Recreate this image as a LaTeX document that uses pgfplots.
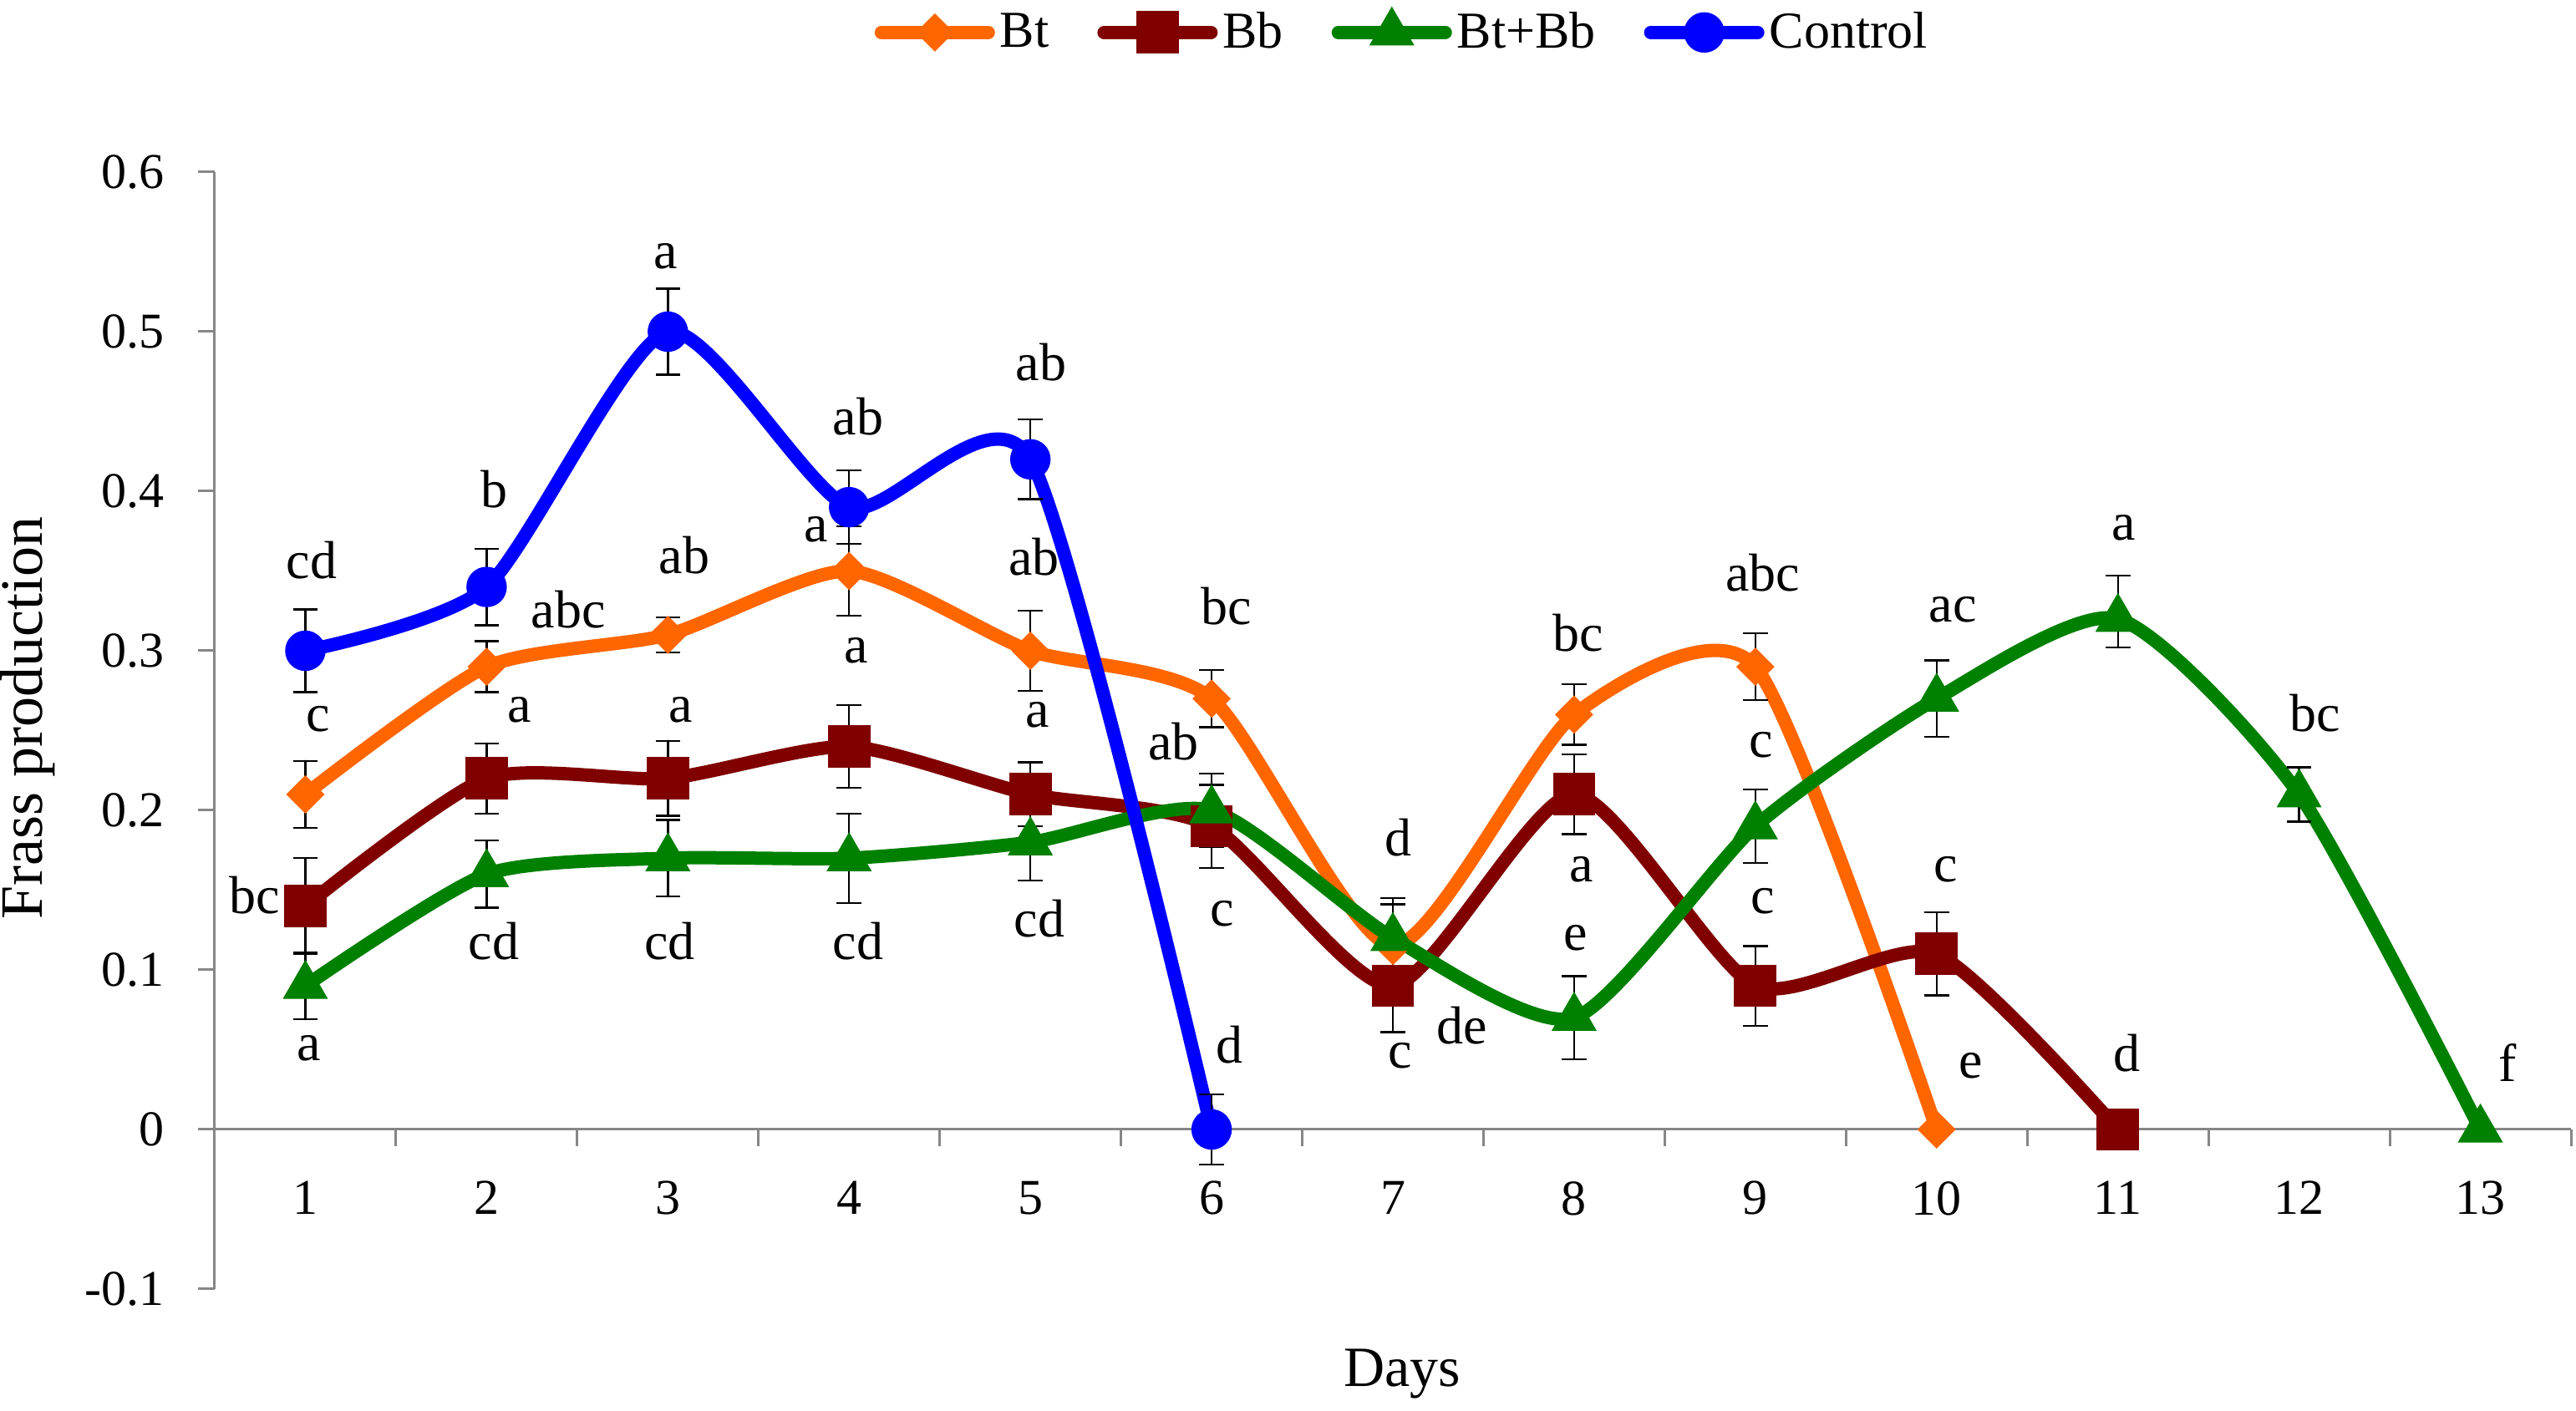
\documentclass[border=0pt]{standalone}
\usepackage{pgfplots}
\pgfplotsset{compat=1.18}
\usepackage{pgfplotstable}
\usepackage{fontspec}
\setmainfont{Liberation Serif}
\definecolor{cBt}{RGB}{255,102,0}
\definecolor{cBb}{RGB}{128,0,0}
\definecolor{cBtBb}{RGB}{0,128,0}
\definecolor{cCtrl}{RGB}{0,0,255}
\definecolor{axgray}{RGB}{134,134,134}

\pgfplotstableread{
x y ep em
1 0.21 0.021 0.021
2 0.29 0.016 0.016
3 0.31 0.011 0.011
4 0.35 0.028 0.028
5 0.30 0.025 0.025
6 0.27 0.018 0.018
7 0.115 0.030 0.030
8 0.26 0.019 0.019
9 0.29 0.021 0.021
10 0.00 0.000 0.000
}\tBt

\pgfplotstableread{
x y ep em
1 0.14 0.030 0.030
2 0.22 0.022 0.022
3 0.22 0.0235 0.0235
4 0.24 0.026 0.026
5 0.21 0.020 0.020
6 0.19 0.026 0.026
7 0.09 0.029 0.029
8 0.21 0.025 0.025
9 0.09 0.025 0.025
10 0.11 0.026 0.026
11 0.00 0.000 0.000
}\tBb

\pgfplotstableread{
x y ep em
1 0.09 0.021 0.021
2 0.16 0.021 0.021
3 0.17 0.024 0.024
4 0.17 0.028 0.028
5 0.18 0.024 0.024
6 0.20 0.023 0.023
7 0.12 0.021 0.021
8 0.07 0.026 0.026
9 0.19 0.023 0.023
10 0.27 0.024 0.024
11 0.32 0.027 0.018
12 0.21 0.017 0.017
13 0.00 0.000 0.000
}\tBtBb

\pgfplotstableread{
x y ep em
1 0.30 0.026 0.026
2 0.34 0.024 0.024
3 0.50 0.027 0.027
4 0.39 0.023 0.023
5 0.42 0.025 0.025
6 0.00 0.022 0.022
}\tCtrl

\begin{document}
\begin{tikzpicture}
\begin{axis}[
  name=ax,
  scale only axis, width=705pt, height=334.25pt,
  xmin=0.5, xmax=13.5, ymin=-0.1, ymax=0.6,
  clip=false,
  axis x line*=middle, axis y line*=left,
  axis line style={axgray, line width=0.75pt, -},
  xtick={0.5,1.5,...,13.5},
  xticklabels={},
  extra x ticks={1,2,3,4,5,6,7,8,9,10,11,12,13},
  extra x tick labels={1,2,3,4,5,6,7,8,9,10,11,12,13},
  extra x tick style={major tick length=0pt, tick style={draw=none},
    xticklabel style={yshift=-12pt}},
  ytick={-0.1,0,0.1,0.2,0.3,0.4,0.5,0.6},
  yticklabels={-0.1,0,0.1,0.2,0.3,0.4,0.5,0.6},
  yticklabel style={xshift=-6.5pt},
  tick align=outside,
  major tick length=5pt,
  tick style={axgray, line width=0.75pt},
  tick label style={font=\fontsize{15}{18}\selectfont, black},
  /pgf/number format/assume math mode=true,
  legend style={at={(rel axis cs:0.5046,1.125)}, anchor=center, draw=none, fill=none,
    legend columns=4, font=\fontsize{15.5}{18}\selectfont,
    /tikz/every even column/.append style={column sep=13pt},
    nodes={inner xsep=1.5pt}},
  legend image code/.code={\draw[#1, line width=4pt, line cap=round, mark repeat=2, mark phase=2]
    plot coordinates {(2pt,0pt) (18pt,0pt) (34pt,0pt)};},
  every axis plot/.append style={line width=4pt, line cap=round, smooth, tension=0.4},
  error bars/y dir=both, error bars/y explicit,
  error bars/error bar style={black, line width=0.6pt, solid},
  error bars/error mark options={rotate=90, black, mark size=3.7pt, line width=0.6pt},
]
\addplot[cBt, mark=square*, mark size=3.9pt, mark options={rotate=45, fill=cBt, draw=cBt, line width=0.3pt}]
  table[x=x, y=y, y error plus=ep, y error minus=em]{\tBt};
\addlegendentry{Bt}
\addplot[cBb, mark=square*, mark size=6.2pt, mark options={fill=cBb, draw=cBb, line width=0.3pt}]
  table[x=x, y=y, y error plus=ep, y error minus=em]{\tBb};
\addlegendentry{Bb}
\addplot[cBtBb, mark=triangle*, mark size=7.5pt, mark options={fill=cBtBb, draw=cBtBb, line width=0.3pt}]
  table[x=x, y=y, y error plus=ep, y error minus=em]{\tBtBb};
\addlegendentry{Bt+Bb}
\addplot[cCtrl, mark=*, mark size=5.9pt, mark options={fill=cCtrl, draw=cCtrl, line width=0.3pt}]
  table[x=x, y=y, y error plus=ep, y error minus=em]{\tCtrl};
\addlegendentry{Control}

\begin{scope}[every node/.style={font=\fontsize{16}{19}\selectfont, inner sep=0pt, anchor=center}]
% Control
\node at (axis cs:1.035,0.357) {cd};
\node at (axis cs:2.04,0.401) {b};
\node at (axis cs:2.99,0.547) {a};
\node at (axis cs:4.05,0.447) {ab};
\node at (axis cs:5.06,0.481) {ab};
\node at (axis cs:6.10,0.053) {d};
% Bt
\node at (axis cs:1.07,0.257) {c};
\node at (axis cs:2.45,0.326) {abc};
\node at (axis cs:3.09,0.360) {ab};
\node at (axis cs:3.82,0.376) {a};
\node at (axis cs:5.02,0.359) {ab};
\node at (axis cs:6.08,0.328) {bc};
\node at (axis cs:7.03,0.183) {d};
\node at (axis cs:8.02,0.311) {bc};
\node at (axis cs:9.04,0.349) {abc};
\node at (axis cs:10.19,0.040) {e};
% Bb
\node at (axis cs:0.72,0.147) {bc};
\node at (axis cs:2.18,0.263) {a};
\node at (axis cs:3.07,0.263) {a};
\node at (axis cs:4.04,0.300) {a};
\node at (axis cs:5.04,0.260) {a};
\node at (axis cs:6.06,0.135) {c};
\node at (axis cs:7.04,0.046) {c};
\node at (axis cs:8.04,0.163) {a};
\node at (axis cs:9.04,0.143) {c};
\node at (axis cs:10.05,0.163) {c};
\node at (axis cs:11.05,0.048) {d};
% Bt+Bb
\node at (axis cs:1.02,0.051) {a};
\node at (axis cs:2.04,0.118) {cd};
\node at (axis cs:3.01,0.118) {cd};
\node at (axis cs:4.05,0.118) {cd};
\node at (axis cs:5.05,0.132) {cd};
\node at (axis cs:5.79,0.243) {ab};
\node at (axis cs:7.38,0.065) {de};
\node at (axis cs:8.01,0.120) {e};
\node at (axis cs:9.03,0.241) {c};
\node at (axis cs:10.09,0.326) {ac};
\node at (axis cs:11.03,0.377) {a};
\node at (axis cs:12.09,0.261) {bc};
\node at (axis cs:13.15,0.042) {f};
\end{scope}

\node[rotate=90, font=\fontsize{18}{21}\selectfont, anchor=center] at (rel axis cs:-0.0794,0.511) {Frass production};
\node[font=\fontsize{17}{20}\selectfont, anchor=center] at (rel axis cs:0.504,-0.0763) {Days};
\end{axis}
\pgfresetboundingbox
\path[use as bounding box] ([xshift=-64.25pt,yshift=-36.5pt]ax.south west) rectangle ++(770.75pt,422.25pt);
\end{tikzpicture}
\end{document}
